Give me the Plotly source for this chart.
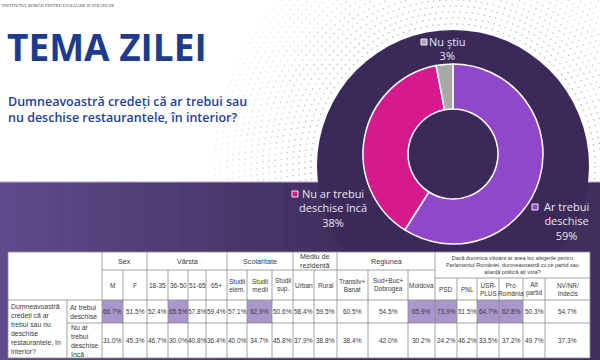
import plotly.graph_objects as go

# ---------------- data ----------------
title_text = "TEMA ZILEI"
institute_text = "INSTITUTUL ROMÂN PENTRU EVALUARE ȘI STRATEGIE"
question_text = "Dumneavoastră credeți că ar trebui sau<br>nu deschise restaurantele, în interior?"

pie_labels = ["Ar trebui deschise", "Nu ar trebui deschise încă", "Nu știu"]
pie_values = [59, 38, 3]
pie_colors = ["#9047c9", "#d61a8d", "#a8a8a8"]

group_names = ["Sex", "Vârsta", "Școlaritate", "Mediu de<br>rezidență", "Regiunea",
               "Dacă duminica viitoare ar avea loc alegerile pentru<br>Parlamentul României, dumneavoastră cu ce partid sau<br>alianță politică ați vota?"]
group_spans = [2, 4, 3, 2, 3, 6]
subcats = ["M", "F", "18-35", "36-50", "51-65", "65+", "Studii<br>elem.", "Studii<br>medii",
           "Studii<br>sup.", "Urban", "Rural", "Transilv+<br>Banat", "Sud+Buc+<br>Dobrogea",
           "Moldova", "PSD", "PNL", "USR-<br>PLUS", "Pro<br>România", "Alt<br>partid", "NV/NR/<br>Indecis"]
row_question = "Dumneavoastră<br>credeți că ar<br>trebui sau nu<br>deschise<br>restaurantele, în<br>interior?"
row_labels = ["Ar trebui<br>deschise", "Nu ar<br>trebui<br>deschise<br>încă"]
ar_trebui = [66.7, 51.5, 52.4, 65.5, 57.8, 59.4, 57.1, 62.9, 50.6, 58.4, 59.5, 60.5, 54.5,
             65.9, 73.9, 51.5, 64.7, 62.8, 50.3, 54.7]
nu_ar_trebui = [31.0, 45.3, 46.7, 30.0, 40.8, 36.4, 40.0, 34.7, 45.8, 37.9, 38.8, 38.4, 42.0,
                30.2, 24.2, 46.2, 33.5, 37.2, 49.7, 37.3]
highlighted = [True, False, False, True, False, False, False, True, False, False, False, False,
               False, True, True, False, True, True, False, False]

# ---------------- layout geometry (pixels) ----------------
W, H = 600, 360
cx, cy = 453, 154          # donut centre
R_out = 90
bg_cx, bg_cy, bg_r = 453, 166, 136
band_top = 182
col_edges = [8, 67, 102, 123, 147, 168, 188, 206, 227, 247, 272, 293, 314, 337, 368,
             408, 435, 457, 477, 499, 523, 545, 590]
t_top, t_h1, t_h1p, t_h2, t_r1, t_bot = 252, 270, 278, 300, 323, 358
grid_col = "#8a8a8a"
txt_col = "#3a3a3a"
tfont = "Liberation Sans"

shapes = []
annotations = []

# dotted halftone rings
rings = list(range(142, 240, 6))
for i, r in enumerate(rings):
    op = max(0.15, 0.6 - i * 0.028)
    shapes.append(dict(type="circle", xref="x", yref="y", layer="below",
                       x0=bg_cx - r, x1=bg_cx + r, y0=bg_cy - r, y1=bg_cy + r,
                       line=dict(color=f"rgba(140,140,150,{op:.2f})", width=1.4, dash="1.4px,4.6px")))

# purple band with horizontal gradient
c0 = (0x5f, 0x4b, 0x8b)
c1 = (0x40, 0x2f, 0x5e)
n = 40
for i in range(n):
    t = min(1.0, (i * W / n) / 330)
    col = tuple(int(c0[k] + (c1[k] - c0[k]) * t) for k in range(3))
    shapes.append(dict(type="rect", xref="x", yref="y", layer="below",
                       x0=i * W / n - 0.5, x1=(i + 1) * W / n + 0.5, y0=band_top, y1=H,
                       fillcolor="rgb(%d,%d,%d)" % col, line=dict(width=0)))
shapes.append(dict(type="line", xref="x", yref="y", layer="below", x0=0, x1=W,
                   y0=band_top, y1=band_top, line=dict(color="#b3a7d3", width=1)))

# dark circle behind the donut
shapes.append(dict(type="circle", xref="x", yref="y", layer="below",
                   x0=bg_cx - bg_r, x1=bg_cx + bg_r, y0=bg_cy - bg_r, y1=bg_cy + bg_r,
                   fillcolor="#3b2a59", line=dict(width=0)))

# table background
shapes.append(dict(type="rect", xref="x", yref="y", layer="below",
                   x0=col_edges[0], x1=col_edges[-1], y0=t_top, y1=t_bot,
                   fillcolor="white", line=dict(width=0)))
# highlighted cells
for j, hl in enumerate(highlighted):
    if hl:
        shapes.append(dict(type="rect", xref="x", yref="y", layer="below",
                           x0=col_edges[j + 2], x1=col_edges[j + 3], y0=t_h2, y1=t_r1,
                           fillcolor="#a996cb", line=dict(width=0)))


def hline(x0, x1, y):
    shapes.append(dict(type="line", xref="x", yref="y", layer="below", x0=x0, x1=x1, y0=y, y1=y,
                       line=dict(color=grid_col, width=0.8)))


def vline(x, y0, y1):
    shapes.append(dict(type="line", xref="x", yref="y", layer="below", x0=x, x1=x, y0=y0, y1=y1,
                       line=dict(color=grid_col, width=0.8)))


# outer border
hline(col_edges[0], col_edges[-1], t_top)
hline(col_edges[0], col_edges[-1], t_bot)
vline(col_edges[0], t_top, t_bot)
vline(col_edges[-1], t_top, t_bot)
# horizontal rules
party_start = col_edges[2 + sum(group_spans[:-1])]
hline(col_edges[2], party_start, t_h1)
hline(party_start, col_edges[-1], t_h1p)
hline(col_edges[0], col_edges[-1], t_h2)
hline(col_edges[1], col_edges[-1], t_r1)
# vertical rules
vline(col_edges[1], t_h2, t_bot)
vline(col_edges[2], t_top, t_bot)
group_bounds = []
acc = 2
for s in group_spans:
    acc += s
    group_bounds.append(acc)
for k in range(3, len(col_edges) - 1):
    if k in group_bounds:
        vline(col_edges[k], t_top, t_bot)
    else:
        vline(col_edges[k], t_h1p if col_edges[k] > party_start else t_h1, t_bot)

# group headers
start = 2
for g, s in zip(group_names, group_spans):
    x0, x1 = col_edges[start], col_edges[start + s]
    if g.startswith("Dacă"):
        annotations.append(dict(x=(x0 + x1) / 2, y=(t_top + t_h1p) / 2, text=g, showarrow=False,
                                xref="x", yref="y", font=dict(family=tfont, size=5.4, color=txt_col)))
    else:
        annotations.append(dict(x=(x0 + x1) / 2, y=(t_top + t_h1) / 2, text=g, showarrow=False,
                                xref="x", yref="y", font=dict(family=tfont, size=7.2, color=txt_col)))
    start += s

# sub headers and values
for j, (lab, v1, v2) in enumerate(zip(subcats, ar_trebui, nu_ar_trebui)):
    x0, x1 = col_edges[j + 2], col_edges[j + 3]
    xm = (x0 + x1) / 2
    is_party = x0 >= party_start
    ytop = t_h1p if is_party else t_h1
    annotations.append(dict(x=xm, y=(ytop + t_h2) / 2, text=lab, showarrow=False, xref="x", yref="y",
                            font=dict(family=tfont, size=6.4 if is_party else 6.5, color=txt_col)))
    annotations.append(dict(x=xm, y=(t_h2 + t_r1) / 2, text=f"{v1:.1f}%", showarrow=False,
                            xref="x", yref="y", font=dict(family=tfont, size=6.5, color=txt_col)))
    annotations.append(dict(x=xm, y=(t_r1 + t_bot) / 2, text=f"{v2:.1f}%", showarrow=False,
                            xref="x", yref="y", font=dict(family=tfont, size=6.5, color=txt_col)))

annotations.append(dict(x=col_edges[0] + 1, y=(t_h2 + t_bot) / 2, text=row_question, showarrow=False,
                        xref="x", yref="y", xanchor="left", align="left",
                        font=dict(family=tfont, size=6.9, color=txt_col)))
annotations.append(dict(x=col_edges[1] + 1, y=(t_h2 + t_r1) / 2, text=row_labels[0], showarrow=False,
                        xref="x", yref="y", xanchor="left", align="left",
                        font=dict(family=tfont, size=6.9, color=txt_col)))
annotations.append(dict(x=col_edges[1] + 1, y=(t_r1 + t_bot) / 2, text=row_labels[1], showarrow=False,
                        xref="x", yref="y", xanchor="left", align="left",
                        font=dict(family=tfont, size=6.9, color=txt_col)))

# titles
annotations.append(dict(x=0, y=5, text=institute_text, showarrow=False, xref="x", yref="y",
                        xanchor="left", font=dict(family="Liberation Serif", size=4.3, color="#444444")))
annotations.append(dict(x=5, y=46, text=title_text, showarrow=False, xref="x", yref="y",
                        xanchor="left", font=dict(family="Open Sans", size=37, color="#1e3b8f", weight=700)))
annotations.append(dict(x=6, y=109, text=question_text, showarrow=False, xref="x", yref="y",
                        xanchor="left", align="left",
                        font=dict(family="Open Sans", size=12.5, color="#1f3f99", weight=600)))

# donut labels
lab_font = dict(family="Open Sans", size=11, color="#e8e6ee")
pie_label_pos = [(566, 221), (333, 208), (447, 48)]
pie_label_text = ["Ar trebui<br>deschise<br>{}%", "Nu ar trebui<br>deschise încă<br>{}%", "Nu știu<br>{}%"]
sq_pos = [(532, 204), (292, 191), (421, 39)]
for (lx, ly), tt, v, (sx, sy), colr in zip(pie_label_pos, pie_label_text, pie_values, sq_pos, pie_colors):
    annotations.append(dict(x=lx, y=ly, text=tt.format(v), showarrow=False, xref="x", yref="y",
                            font=lab_font))
    shapes.append(dict(type="rect", xref="x", yref="y", layer="above", x0=sx, x1=sx + 6,
                       y0=sy, y1=sy + 6, fillcolor=colr, line=dict(color="#f0e8f4", width=1)))

fig = go.Figure()
fig.add_trace(go.Pie(
    labels=pie_labels, values=pie_values, hole=0.5, sort=False, direction="clockwise", rotation=0,
    marker=dict(colors=pie_colors, line=dict(color="white", width=1.5)),
    textinfo="none", showlegend=False, hoverinfo="label+percent",
    domain=dict(x=[(cx - R_out) / W, (cx + R_out) / W], y=[1 - (cy + R_out) / H, 1 - (cy - R_out) / H]),
))
# invisible scatter to activate the pixel axes
fig.add_trace(go.Scatter(x=[0, W], y=[0, H], mode="markers", marker=dict(opacity=0),
                         showlegend=False, hoverinfo="skip"))

fig.update_layout(
    width=W, height=H, margin=dict(l=0, r=0, t=0, b=0),
    paper_bgcolor="white", plot_bgcolor="rgba(0,0,0,0)",
    xaxis=dict(range=[0, W], visible=False, fixedrange=True),
    yaxis=dict(range=[H, 0], visible=False, fixedrange=True),
    shapes=shapes, annotations=annotations, showlegend=False,
)
fig.write_html("out.html", config={"displayModeBar": False},
               post_script="document.body.style.margin='0';document.body.style.overflow='hidden';")
